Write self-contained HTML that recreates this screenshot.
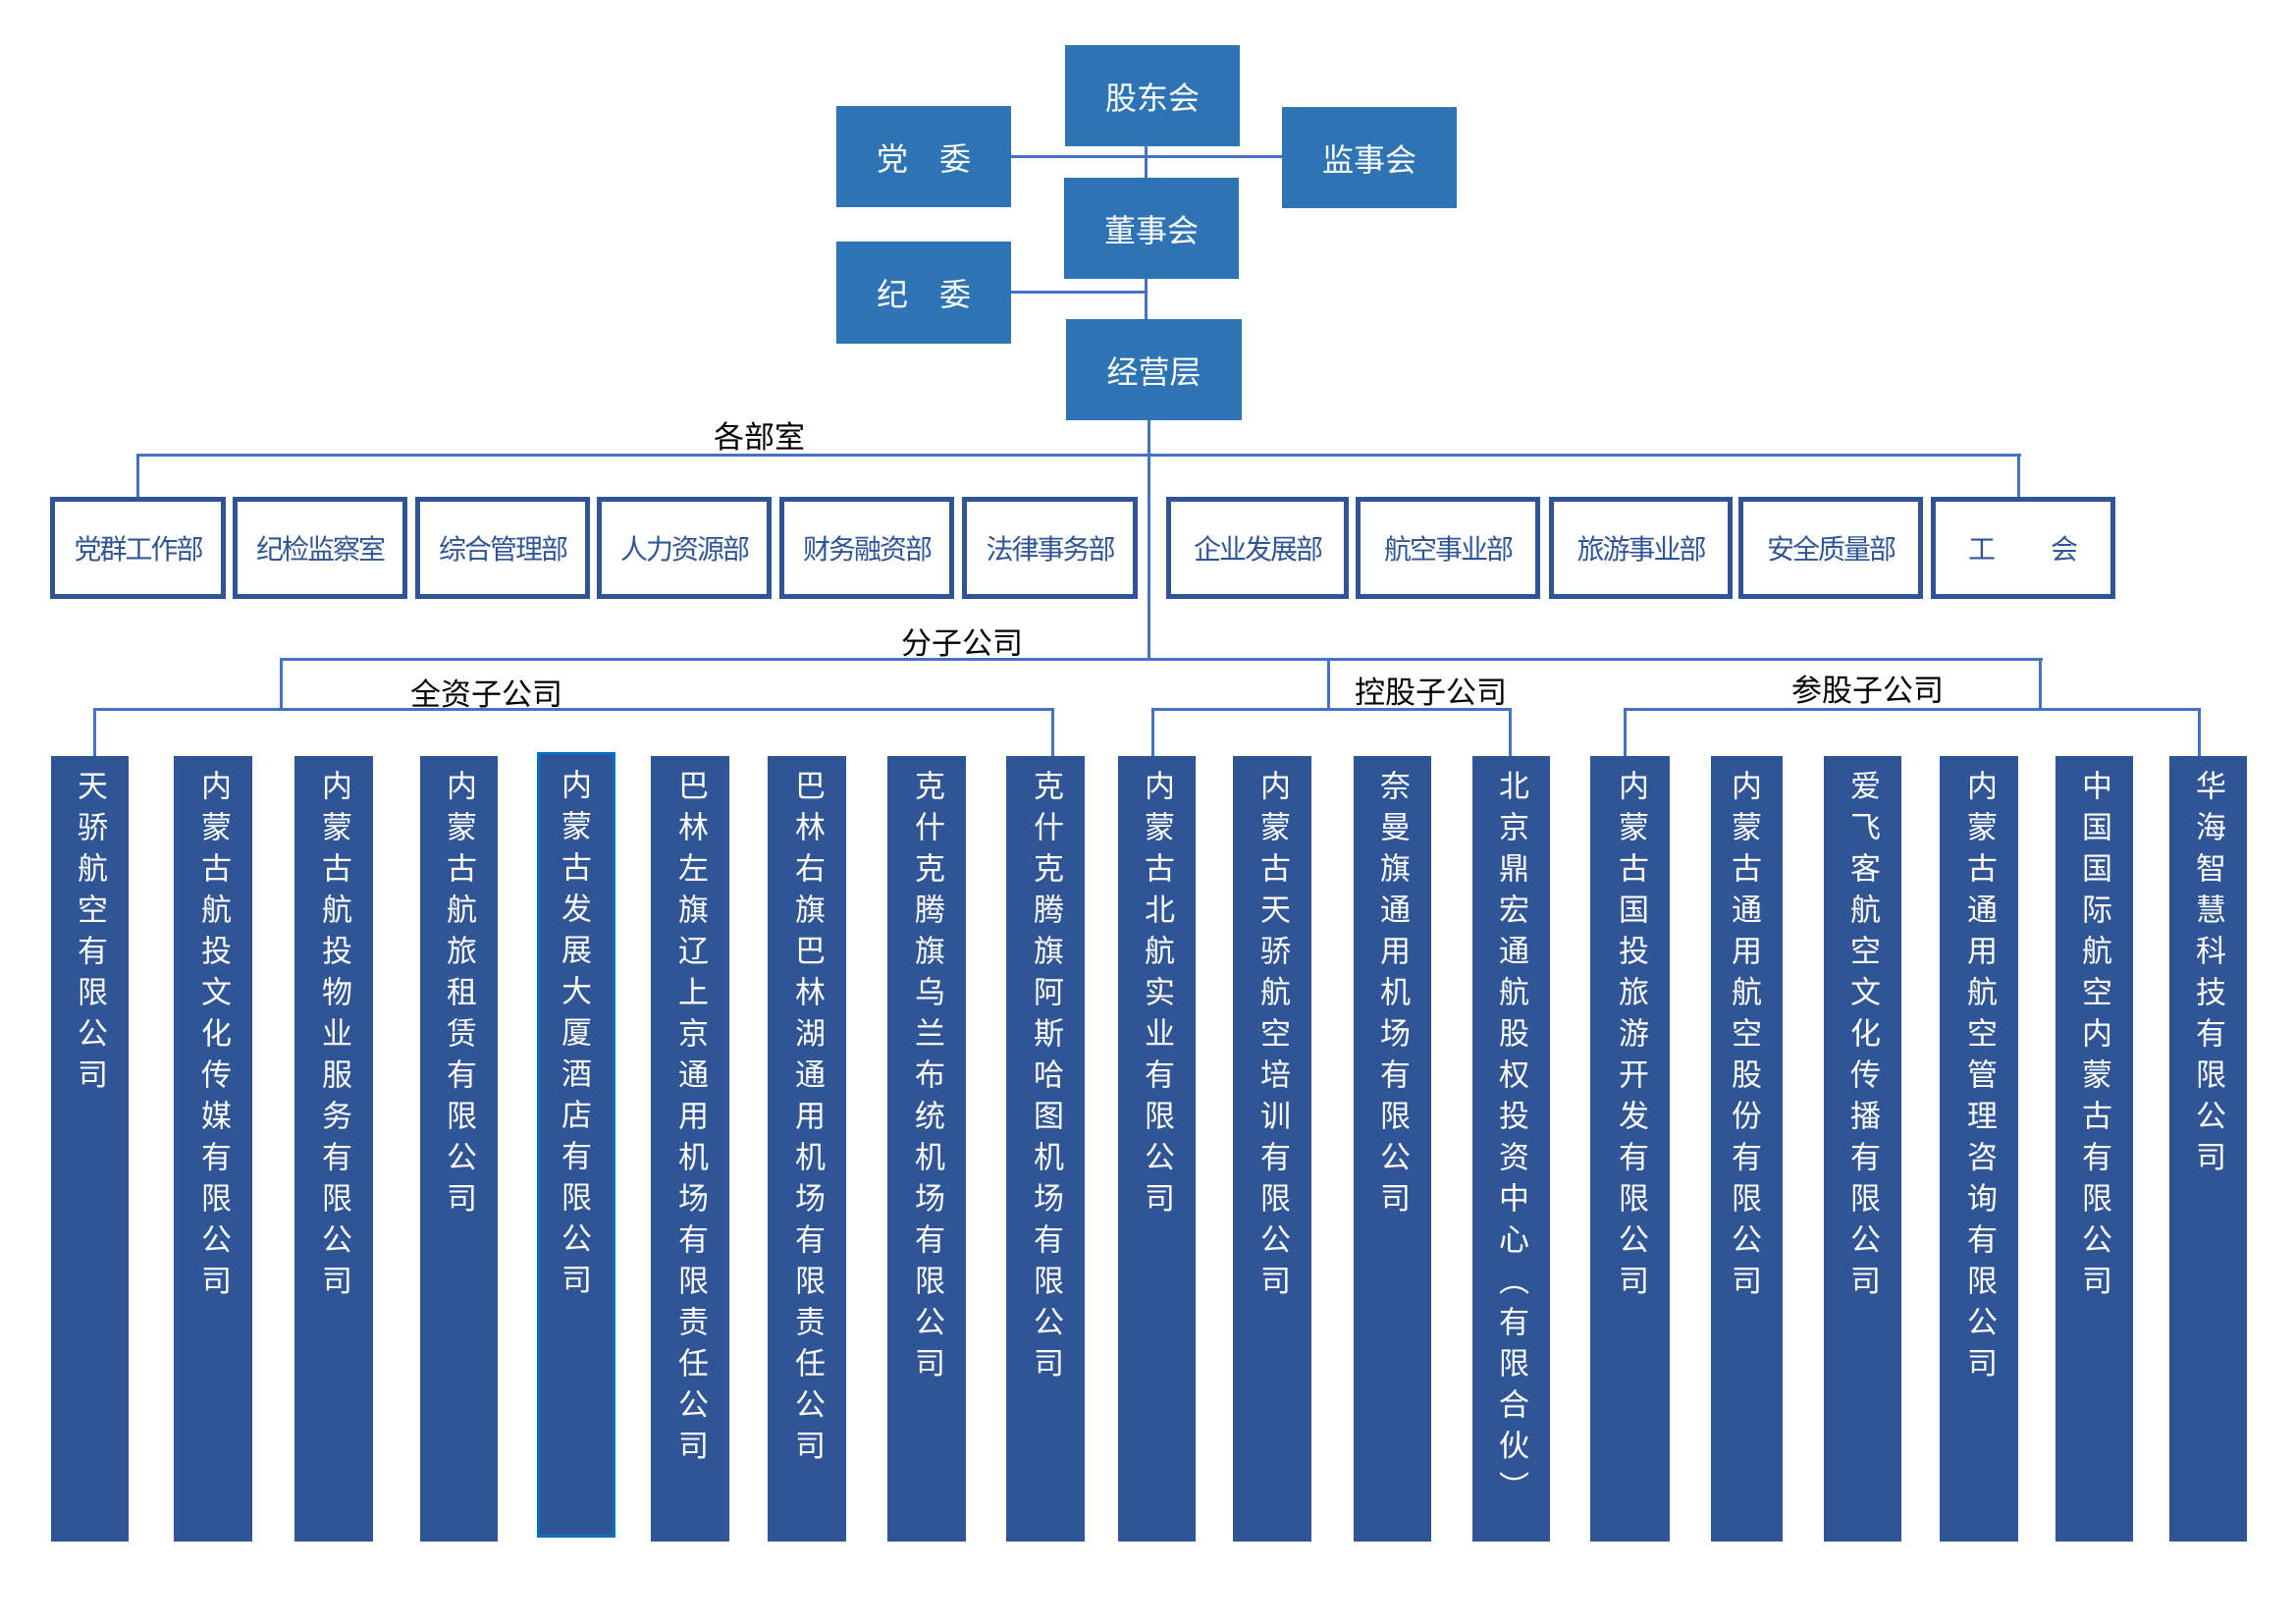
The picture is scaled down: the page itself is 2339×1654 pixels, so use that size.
<!DOCTYPE html>
<html><head><meta charset="utf-8">
<style>
body{margin:0;width:2339px;height:1654px;background:#fff;position:relative;overflow:hidden;font-family:"Liberation Sans","Noto Sans CJK SC",sans-serif;}
.a{position:absolute}
.t{position:absolute;background:#2E74B5;color:#fff;font-size:32px;display:flex;align-items:center;justify-content:center}
.d{position:absolute;box-sizing:border-box;border:5px solid #2F5597;color:#2F5597;font-size:28px;letter-spacing:-2px;display:flex;align-items:center;justify-content:center;top:506px;height:104px}
.c{position:absolute;background:#2F5597;color:#fff;font-size:31px;top:770px;height:800px;writing-mode:vertical-rl;text-orientation:upright;letter-spacing:11px;box-sizing:border-box;padding-top:14px;line-height:79px;text-align:left}
.h{position:absolute;background:#4472C4;height:3px}
.v{position:absolute;background:#4472C4;width:3px}
.l{position:absolute;color:#000;font-size:31px;line-height:1}
</style></head><body>
<div class="h" style="left:1030px;top:158px;width:292px"></div>
<div class="v" style="left:1166px;top:149px;height:32px"></div>
<div class="h" style="left:1030px;top:296px;width:137px"></div>
<div class="v" style="left:1166px;top:284px;height:41px"></div>
<div class="v" style="left:1169px;top:428px;height:244px"></div>
<div class="h" style="left:139px;top:462px;width:1920px"></div>
<div class="v" style="left:139px;top:462px;height:44px"></div>
<div class="v" style="left:2055px;top:462px;height:44px"></div>
<div class="h" style="left:285px;top:670px;width:1796px"></div>
<div class="v" style="left:285px;top:670px;height:53px"></div>
<div class="v" style="left:1352px;top:670px;height:52px"></div>
<div class="v" style="left:2077px;top:670px;height:52px"></div>
<div class="h" style="left:95px;top:721px;width:979px"></div>
<div class="v" style="left:95px;top:721px;height:49px"></div>
<div class="v" style="left:1071px;top:721px;height:49px"></div>
<div class="h" style="left:1173px;top:721px;width:367px"></div>
<div class="v" style="left:1173px;top:721px;height:49px"></div>
<div class="v" style="left:1537px;top:721px;height:49px"></div>
<div class="h" style="left:1654px;top:721px;width:588px"></div>
<div class="v" style="left:1654px;top:721px;height:49px"></div>
<div class="v" style="left:2239px;top:721px;height:49px"></div>

<div class="t" style="left:1085px;top:46px;width:178px;height:103px">股东会</div>
<div class="t" style="left:852px;top:108px;width:178px;height:103px">党　委</div>
<div class="t" style="left:1306px;top:109px;width:178px;height:103px">监事会</div>
<div class="t" style="left:1084px;top:181px;width:178px;height:103px">董事会</div>
<div class="t" style="left:852px;top:246px;width:178px;height:104px">纪　委</div>
<div class="t" style="left:1086px;top:325px;width:179px;height:103px">经营层</div>

<div class="l" style="left:727px;top:430px">各部室</div>
<div class="l" style="left:918px;top:640px">分子公司</div>
<div class="l" style="left:418px;top:692px">全资子公司</div>
<div class="l" style="left:1380px;top:690px">控股子公司</div>
<div class="l" style="left:1825px;top:688px">参股子公司</div>

<div class="d" style="left:51px;width:179px">党群工作部</div>
<div class="d" style="left:237px;width:178px">纪检监察室</div>
<div class="d" style="left:423px;width:178px">综合管理部</div>
<div class="d" style="left:608px;width:178px">人力资源部</div>
<div class="d" style="left:794px;width:178px">财务融资部</div>
<div class="d" style="left:980px;width:179px">法律事务部</div>
<div class="d" style="left:1188px;width:186px">企业发展部</div>
<div class="d" style="left:1381px;width:188px">航空事业部</div>
<div class="d" style="left:1578px;width:187px">旅游事业部</div>
<div class="d" style="left:1771px;width:188px">安全质量部</div>
<div class="d" style="left:1967px;width:188px;letter-spacing:0">工　　会</div>

<div class="c" style="left:52px;width:79px">天骄航空有限公司</div>
<div class="c" style="left:177px;width:80px">内蒙古航投文化传媒有限公司</div>
<div class="c" style="left:300px;width:80px">内蒙古航投物业服务有限公司</div>
<div class="c" style="left:428px;width:79px">内蒙古航旅租赁有限公司</div>
<div class="c" style="left:547px;width:80px;top:766px;border:3px solid #0070C0">内蒙古发展大厦酒店有限公司</div>
<div class="c" style="left:663px;width:80px">巴林左旗辽上京通用机场有限责任公司</div>
<div class="c" style="left:782px;width:80px">巴林右旗巴林湖通用机场有限责任公司</div>
<div class="c" style="left:904px;width:80px">克什克腾旗乌兰布统机场有限公司</div>
<div class="c" style="left:1025px;width:80px">克什克腾旗阿斯哈图机场有限公司</div>
<div class="c" style="left:1139px;width:79px">内蒙古北航实业有限公司</div>
<div class="c" style="left:1256px;width:80px">内蒙古天骄航空培训有限公司</div>
<div class="c" style="left:1379px;width:79px">奈曼旗通用机场有限公司</div>
<div class="c" style="left:1500px;width:79px">北京鼎宏通航股权投资中心（有限合伙）</div>
<div class="c" style="left:1620px;width:81px">内蒙古国投旅游开发有限公司</div>
<div class="c" style="left:1743px;width:73px">内蒙古通用航空股份有限公司</div>
<div class="c" style="left:1858px;width:79px">爱飞客航空文化传播有限公司</div>
<div class="c" style="left:1976px;width:80px">内蒙古通用航空管理咨询有限公司</div>
<div class="c" style="left:2094px;width:79px">中国国际航空内蒙古有限公司</div>
<div class="c" style="left:2210px;width:79px">华海智慧科技有限公司</div>
</body></html>
